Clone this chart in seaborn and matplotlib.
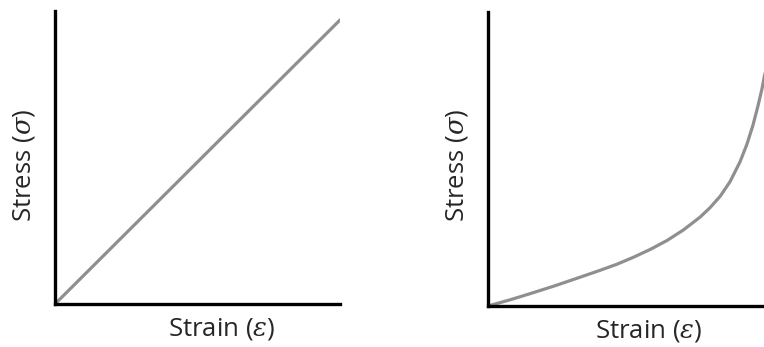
import matplotlib
matplotlib.use("Agg")
import matplotlib.pyplot as plt
import seaborn as sns
import pandas as pd

# linear elastic material
lin_strain = [0, 100]
lin_stress = [0, 100]

# strain-stiffening material
nl_strain = [0, 8.0, 15.6, 24.3, 31.5, 39.9, 46.7, 52.5, 58.7, 64.9, 70.7, 76.8,
             80.4, 84.1, 87.7, 91.3, 93.8, 96.0, 97.8, 99.3, 100.0, 101.0]
nl_stress = [0, 2.1, 4.3, 6.9, 9.2, 11.9, 14.2, 16.5, 19.2, 22.3, 25.8, 30.2,
             33.4, 37.3, 42.3, 49.0, 55.0, 61.5, 68.0, 74.0, 77.5, 82.0]

LINE_COLOR = "#8f8f8f"

sns.set_style("white")
plt.rcParams["font.family"] = ["Open Sans", "DejaVu Sans"]
plt.rcParams["mathtext.fontset"] = "dejavuserif"

fig = plt.figure(figsize=(7.64, 3.47), dpi=100)
ax1 = fig.add_axes([55 / 764, 43 / 347, 285 / 764, 293 / 347])
ax2 = fig.add_axes([488 / 764, 41 / 347, 276 / 764, 294 / 347])

df1 = pd.DataFrame({"strain": lin_strain, "stress": lin_stress})
df2 = pd.DataFrame({"strain": nl_strain, "stress": nl_stress})

sns.lineplot(data=df1, x="strain", y="stress", ax=ax1, color=LINE_COLOR, linewidth=2.3)
sns.lineplot(data=df2, x="strain", y="stress", ax=ax2, color=LINE_COLOR, linewidth=2.3)

ax1.set_xlim(0, 100)
ax1.set_ylim(0, 100 * 293 / 284)
ax2.set_xlim(0, 100)
ax2.set_ylim(0, 100)

for ax, ylab_x, ylab_y in [(ax1, -0.063, 0.474), (ax2, -0.065, 0.48)]:
    sns.despine(ax=ax)
    for s in ["left", "bottom"]:
        ax.spines[s].set_linewidth(2.4)
        ax.spines[s].set_color("black")
    ax.set_xticks([])
    ax.set_yticks([])
    ax.set_xlabel(r"Strain ($\varepsilon$)", fontsize=18.5)
    ax.set_ylabel(r"Stress ($\sigma$)", fontsize=18.5)
    ax.xaxis.set_label_coords(0.583, -0.04)
    ax.yaxis.set_label_coords(ylab_x, ylab_y)

fig.savefig("out.png", dpi=100)
